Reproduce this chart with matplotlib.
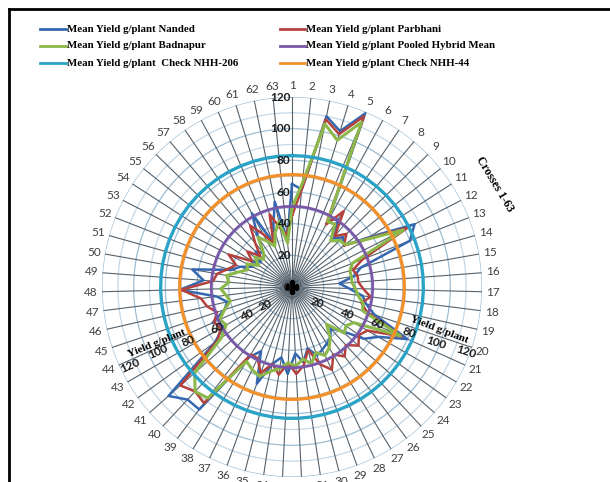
import numpy as np
import matplotlib.pyplot as plt
from matplotlib.lines import Line2D

# crosses 1-63, yield g/plant
crosses = list(range(1, 64))

nanded = [65, 62, 110, 103, 119, 48, 52, 40, 45, 42,
          58, 87, 80, 45, 40, 30, 36, 45, 48, 55,
          80, 63, 56, 42, 36, 40, 42, 44, 46, 40,
          48, 42, 55, 45, 50, 65, 45, 52, 97, 97,
          104, 60, 50, 55, 45, 42, 48, 71, 56, 64,
          40, 35, 28, 30, 25, 32, 28, 38, 53, 30,
          40, 55, 30]

parbhani = [45, 62, 108, 101, 117, 45, 58, 42, 48, 42,
            56, 82, 48, 40, 42, 42, 45, 50, 45, 50,
            76, 55, 52, 56, 50, 55, 50, 58, 52, 41,
            50, 55, 48, 56, 50, 58, 50, 50, 92, 90,
            94, 58, 52, 54, 50, 55, 58, 70, 50, 48,
            42, 38, 45, 30, 36, 28, 36, 47, 38, 30,
            48, 38, 33]

badnapur = [50, 66, 105, 97, 113, 47, 48, 38, 42, 43,
            55, 79, 41, 38, 38, 38, 40, 42, 46, 47,
            75, 45, 42, 44, 32, 40, 45, 48, 44, 50,
            46, 50, 48, 52, 55, 60, 58, 55, 88, 90,
            82, 55, 48, 50, 45, 40, 42, 45, 40, 42,
            35, 30, 32, 25, 30, 25, 28, 38, 33, 28,
            36, 42, 28]

pooled_value = 51
nhh206_value = 83
nhh44_value = 71
pooled = [pooled_value] * len(crosses)
nhh206 = [nhh206_value] * len(crosses)
nhh44 = [nhh44_value] * len(crosses)

series = [
    ("Mean Yield g/plant Nanded", nanded, "#3567b0", 1.8),
    ("Mean Yield g/plant Parbhani", parbhani, "#b5413d", 1.8),
    ("Mean Yield g/plant Badnapur", badnapur, "#8cb84a", 2.2),
    ("Mean Yield g/plant Pooled Hybrid Mean", pooled, "#7a57a8", 2.0),
    ("Mean Yield g/plant  Check NHH-206", nhh206, "#2aa3c7", 2.4),
    ("Mean Yield g/plant Check NHH-44", nhh44, "#f2912c", 2.4),
]

W, H = 610, 482
fig = plt.figure(figsize=(W / 100, H / 100), dpi=100)
fig.patch.set_facecolor("white")

# polar area: centre (292,287) px, radius 190 px
cx, cy, R = 292, 287, 190
ax = fig.add_axes([(cx - R) / W, 1 - (cy + R) / H, 2 * R / W, 2 * R / H],
                  projection="polar")
ax.set_theta_zero_location("N")
ax.set_theta_direction(-1)
ax.set_ylim(0, 120)
ax.grid(False)
ax.set_xticks([])
ax.set_yticks([])
ax.spines["polar"].set_visible(False)
ax.patch.set_alpha(0)

theta = np.linspace(0, 2 * np.pi, len(crosses), endpoint=False)
circ = np.linspace(0, 2 * np.pi, 500)

# rings
for r in range(10, 121, 10):
    col = "#9dbdd3" if r % 20 == 0 else "#c3d7e6"
    ax.plot(circ, [r] * len(circ), color=col, lw=0.9, zorder=1)

# spokes
for t in theta:
    ax.plot([t, t], [0, 120], color="#55616b", lw=0.8, zorder=2)
ax.plot([0], [0], marker="P", ms=9, color="black", zorder=3)

# series
for name, vals, col, lw in series:
    v = list(vals) + [vals[0]]
    t = list(theta) + [theta[0]]
    ax.plot(t, v, color=col, lw=lw, zorder=5)

# category labels
for t, c in zip(theta, crosses):
    ax.text(t, 127, str(c), ha="center", va="center", fontsize=8.5,
            color="#404040", family="Lato")

# vertical value axis labels
for v in range(0, 121, 20):
    ax.annotate(str(v), xy=(0, v), xytext=(-1, 0), textcoords="offset points",
                ha="right", va="center", fontsize=8.5, fontweight="bold",
                color="#1a1a1a", family="Lato", zorder=6)

def ftext(x, y, s, **kw):
    fig.text(x / W, 1 - y / H, s, **kw)

# right-hand secondary axis
right_pos = [(317, 303), (347, 314), (377, 324), (409, 333), (436, 343), (466, 352)]
for v, (x, y) in zip(range(20, 121, 20), right_pos):
    ftext(x, y, str(v), ha="center", va="center", rotation=-18, fontsize=8.5,
          fontweight="bold", color="#1a1a1a", family="Lato")
ftext(439, 330, "Yield g/plant", ha="center", va="center", rotation=-21,
      fontsize=8, fontweight="bold", family="Liberation Serif")

# left-hand secondary axis
left_pos = [(265, 305), (247, 315), (217, 328), (188, 341), (158, 352), (130, 366)]
for v, (x, y) in zip(range(20, 121, 20), left_pos):
    ftext(x, y, str(v), ha="center", va="center", rotation=24, fontsize=8.5,
          fontweight="bold", color="#1a1a1a", family="Lato")
ftext(157, 343, "Yield g/plant", ha="center", va="center", rotation=22,
      fontsize=8, fontweight="bold", family="Liberation Serif")

ftext(495, 184, "Crosses 1-63", ha="center", va="center", rotation=-59,
      fontsize=8.5, fontweight="bold", family="Liberation Serif")

# legend, drawn by hand in two columns
legend_cols = [(40, 66), (280, 305)]
legend_rows = [29, 46, 63]
order = [0, 2, 4, 1, 3, 5]
for k, idx in enumerate(order):
    name, _, col, _ = series[idx]
    x0, x1 = legend_cols[k // 3]
    y = legend_rows[k % 3]
    fig.add_artist(Line2D([x0 / W, x1 / W], [1 - y / H, 1 - y / H],
                          color=col, lw=2))
    ftext(x1 + 1, y, name, ha="left", va="center", fontsize=7.8,
          fontweight="bold", family="Liberation Serif")

# frame (left and top edges)
fig.add_artist(Line2D([9 / W, 9 / W], [0, 1 - 9 / H], color="black", lw=2))
fig.add_artist(Line2D([9 / W, 1], [1 - 9 / H, 1 - 9 / H], color="black", lw=2))

fig.savefig("out.png", dpi=100)
